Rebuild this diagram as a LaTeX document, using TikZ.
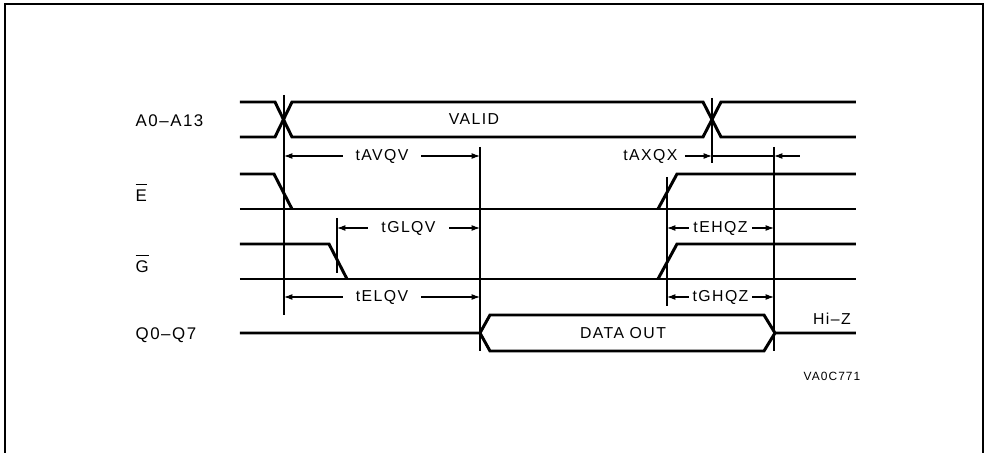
\documentclass[tikz,border=0pt]{standalone}
\usepackage{fontspec}
\newfontfamily\plotfont{Liberation Sans}[LetterSpace=9]
\usetikzlibrary{arrows.meta,calc}
\tikzset{
  sig/.style={line width=.85pt,line join=miter},
  tick/.style={line width=.3pt},
  dim/.style={line width=.3pt,{Latex[length=2.4pt,width=1.7pt]}-{Latex[length=2.4pt,width=1.7pt]}},
  dimin/.style={line width=.3pt,-{Latex[length=2.4pt,width=1.7pt]}},
  lbl/.style={font=\plotfont\fontsize{4.5}{5.5}\selectfont,inner sep=0pt},
  signame/.style={font=\plotfont\fontsize{4.8}{6}\selectfont,inner sep=0pt,anchor=west},
  gap/.style={lbl,fill=white,inner xsep=.13cm,inner ysep=.03cm},
}

\begin{document}
\begin{tikzpicture}[x=1cm,y=1cm]
\useasboundingbox (0,0) rectangle (9.89,4.53);
\draw[line width=.55pt] (.05,-.2)--(.05,4.49)--(9.83,4.49)--(9.83,-.2); %frame

%time marks and arrow rows
\coordinate (m1) at (2.84,3.58);
\coordinate (m2) at (3.37,2.35);
\coordinate (m3) at (4.80,3.06);
\coordinate (m4) at (6.67,2.76);
\coordinate (m5) at (7.12,3.55);
\coordinate (m6) at (7.74,3.06);
\coordinate (r1) at (0,2.97);
\coordinate (r2) at (0,2.25);
\coordinate (r3) at (0,1.56);

%signal names
\node[signame] (a) at (1.35,3.32){A0–A13};
\node[signame] (e) at (1.35,2.61){$\overline{\mbox{E}}$};
\node[signame] (g) at (1.35,1.90){$\overline{\mbox{G}}$};
\node[signame] (q) at (1.35,1.18){Q0–Q7};

%address
\draw[sig](2.40,3.51)--(2.75,3.51)--(2.92,3.16)--(7.03,3.16)--(7.21,3.51)--(8.56,3.51);
\draw[sig](2.40,3.16)--(2.75,3.16)--(2.92,3.51)--(7.03,3.51)--(7.21,3.16)--(8.56,3.16);
\node[lbl] (valid) at (4.74,3.34){VALID};
%chip enable
\draw[sig](2.40,2.79)--(2.74,2.79)--(2.92,2.44);
\draw[sig](2.40,2.44)--(8.56,2.44);
\draw[sig](6.58,2.44)--(6.77,2.79)--(8.56,2.79);
%output enable
\draw[sig](2.40,2.09)--(3.29,2.09)--(3.47,1.74);
\draw[sig](2.40,1.74)--(8.56,1.74);
\draw[sig](6.58,1.74)--(6.77,2.09)--(8.56,2.09);
%data out
\draw[sig](2.40,1.20)--(4.80,1.20)--(4.90,1.38)--(7.64,1.38)--(7.75,1.20)--(8.56,1.20);
\draw[sig](4.80,1.20)--(4.90,1.02)--(7.64,1.02)--(7.75,1.20);
\node[lbl] (dout) at (6.23,1.20){DATA\hspace{.35em}OUT};
\node[lbl] (hiz) at (8.32,1.34){Hi–Z};

%reference lines
\draw[tick](m1)--++(0,-2.20);
\draw[tick](m2)--++(0,-.55);
\draw[tick](m3)--++(0,-2.04);
\draw[tick](m4)--++(0,-1.29);
\draw[tick](m5)--++(0,-.65);
\draw[tick](m6)--++(0,-2.04);

%timings
\draw[dim](m1|-r1)--node[gap] (tavqv){tAVQV}(m3|-r1);
\draw[dim](m2|-r2)--node[gap] (tglqv){tGLQV}(m3|-r2);
\draw[dim](m1|-r3)--node[gap] (telqv){tELQV}(m3|-r3);
\draw[dim](m4|-r2)--node[gap,inner xsep=.04cm] (tehqz){tEHQZ}(m6|-r2);
\draw[dim](m4|-r3)--node[gap,inner xsep=.04cm] (tghqz){tGHQZ}(m6|-r3);
\node[lbl,anchor=east] (taxqx) at (6.78,2.97){tAXQX};
\draw[dimin]($(m5|-r1)+(-.27,0)$)--(m5|-r1);
\draw[tick](m5|-r1)--(m6|-r1);
\draw[dimin]($(m6|-r1)+(.26,0)$)--(m6|-r1);

\node[lbl,font=\plotfont\fontsize{3.4}{4}\selectfont] (fig) at (8.32,.77){VA0C771};
\end{tikzpicture}
\end{document}
